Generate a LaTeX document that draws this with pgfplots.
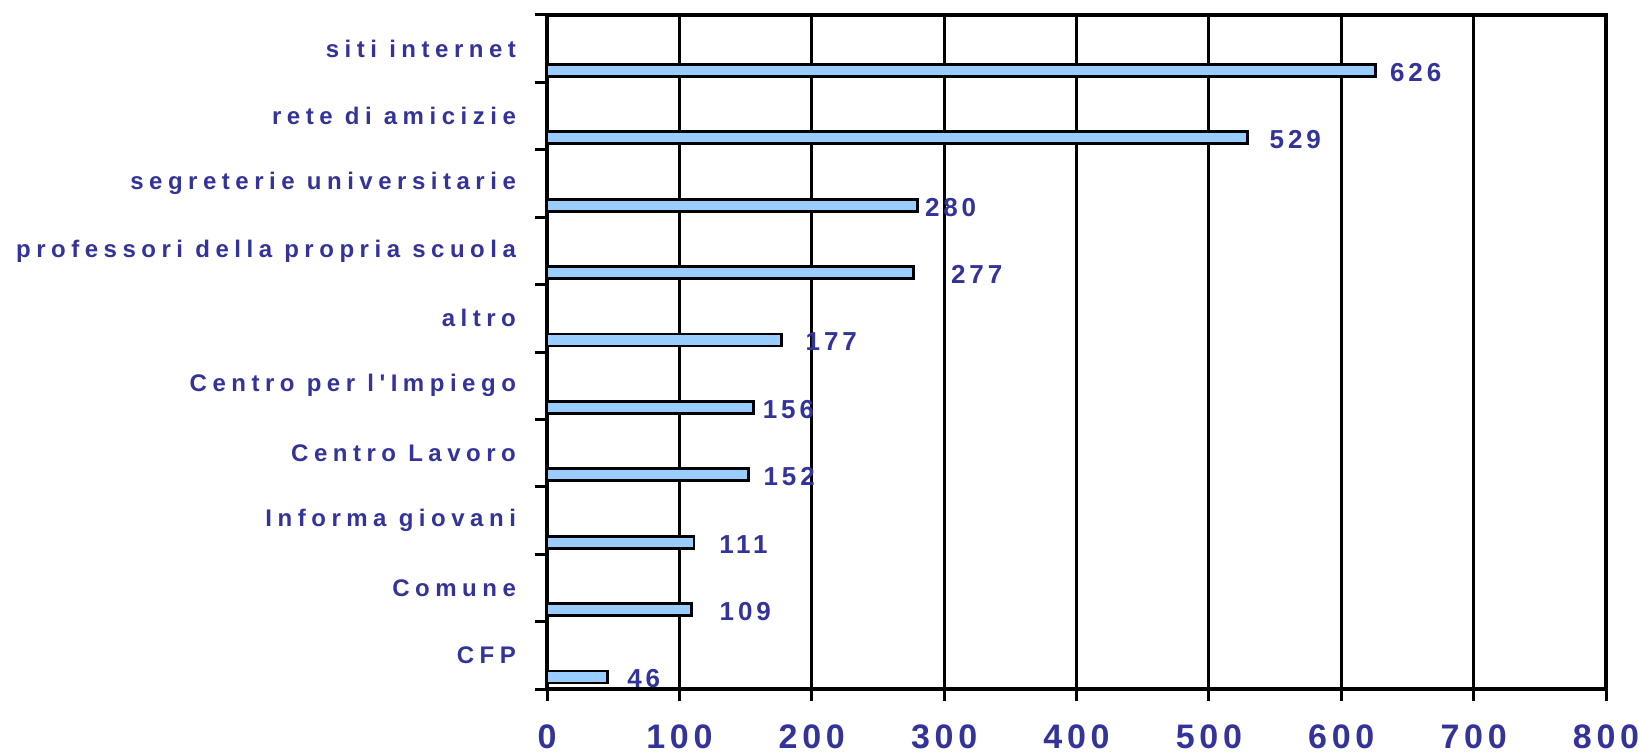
\documentclass[border=0pt]{standalone}
\usepackage{fontspec}
\setmainfont{Liberation Sans}
\usepackage{pgfplots}
\usepackage{pgfplotstable}
\pgfplotsset{compat=1.18}
\usetikzlibrary{calc}
\definecolor{labblue}{RGB}{51,51,153}
\definecolor{barblue}{RGB}{153,204,255}
\newfontfamily\catfont[LetterSpace=23]{Liberation Sans Bold}
\newfontfamily\valfont[LetterSpace=15]{Liberation Sans Bold}
\newfontfamily\tickfont[LetterSpace=14]{Liberation Sans Bold}

% y = category slot (0 = bottom), v = value, off = gap before the value label (pt)
\pgfplotstableread{
y v off
9 626 6.5
8 529 10.5
7 280 3
6 277 18
5 177 11.5
4 156 4
3 152 7
2 111 12
1 109 13.5
0 46 9
}\datatable

\begin{document}
\begin{tikzpicture}
\begin{axis}[
    name=ax,
    scale only axis,
    width=529.5pt, height=337pt,
    xmin=0, xmax=800,
    ymin=-0.5, ymax=9.5,
    xtick={0,100,...,800},
    xtick pos=bottom,
    ytick pos=left,
    tick align=outside,
    major tick length=6pt,
    xmajorgrids,
    major grid style={black, line width=1.5pt},
    axis line style={black, line width=1.6pt},
    every tick/.style={black, line width=1.5pt},
    /pgf/number format/assume math mode=true,
    xticklabel style={font=\tickfont\fontsize{17}{19}\selectfont, text=labblue,
        inner sep=0pt, yshift=-11.5pt},
    ytick={-0.5,0.5,...,9.5},
    yticklabels={},
    extra y ticks={0,...,9},
    extra y tick labels={CFP, Comune, Informa giovani, Centro Lavoro,
        Centro per l'Impiego, altro, professori della propria scuola,
        segreterie universitarie, rete di amicizie, siti internet},
    extra y tick style={major tick length=0pt,
        yticklabel style={font=\catfont\fontsize{12}{14}\selectfont,
            text=labblue, xshift=-12pt}},
    xbar,
    bar width=0.18,
    bar shift=0,
    point meta=explicit,
    nodes near coords,
    visualization depends on={\thisrow{off} \as \off},
    every node near coord/.append style={font=\valfont\fontsize{13}{15}\selectfont,
        text=labblue, anchor=west, inner sep=0pt, xshift=\off pt, yshift=-1pt},
]
\addplot[draw=black, line width=1.4pt, fill=barblue]
    table[x=v, y expr=\thisrow{y}-0.322, meta=v] {\datatable};
\end{axis}
\path ($(ax.south west)+(-273.5pt,-32pt)$) rectangle ($(ax.north east)+(18.5pt,7.5pt)$);
\end{tikzpicture}
\end{document}
